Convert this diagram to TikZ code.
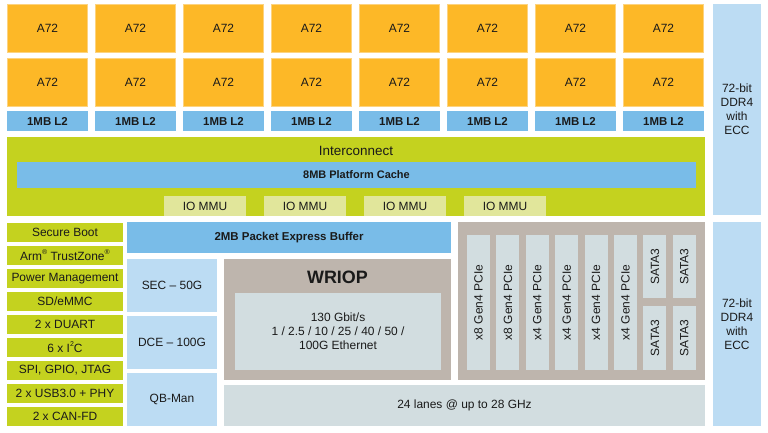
\documentclass[tikz,border=0pt]{standalone}
\usepackage{fontspec}
\setmainfont{Liberation Sans}
\definecolor{corefill}{HTML}{FDB827}
\definecolor{coreline}{HTML}{FDD37F}
\definecolor{ltwofill}{HTML}{79BCE8}
\definecolor{grn}{HTML}{C4D21F}
\definecolor{mmu}{HTML}{E1E69B}
\definecolor{lblue}{HTML}{BCDCF3}
\definecolor{wgray}{HTML}{BEB5AD}
\definecolor{lgray}{HTML}{D2DDE0}
\definecolor{txt}{HTML}{1A1A1A}
\newcommand{\smsup}[1]{\raisebox{0.45em}{\fontsize{7}{8}\selectfont #1}}
\begin{document}
\begin{tikzpicture}[x=1bp,y=-1bp,
  blk/.style={anchor=north west, inner sep=0pt, outer sep=0pt, text=txt,
    font=\fontsize{12}{14}\selectfont, align=center},
  core/.style={blk, fill=corefill, draw=coreline, line width=0.6bp,
    minimum width=80.4bp, minimum height=48.4bp},
  ltwo/.style={blk, fill=ltwofill, minimum width=81bp, minimum height=20bp,
    font=\fontsize{11.5}{14}\selectfont\bfseries},
  mmubox/.style={blk, fill=mmu, minimum width=82bp, minimum height=20bp},
  side/.style={blk, fill=grn, minimum width=116bp, minimum height=19.5bp},
  lbbox/.style={blk, fill=lblue},
  strip/.style={blk, fill=lgray, minimum width=23bp},
  vtext/.style={rotate=90, text=txt, font=\fontsize{12}{14}\selectfont, inner sep=0pt},
  lbl/.style={text=txt, inner sep=0pt, align=center, font=\fontsize{12}{14}\selectfont}]
\useasboundingbox (0,0) rectangle (768,432);
\fill[white] (0,0) rectangle (768,432);

% cores and L2
\foreach \i in {0,...,7} {
  \node[core] (ca\i) at ({7.3+88*\i},4.3) {A72};
  \node[core] (cb\i) at ({7.3+88*\i},58.3) {A72};
  \node[ltwo] (l\i) at ({7+88*\i},111) {1MB L2};
}

% interconnect
\node[blk, fill=grn, minimum width=698bp, minimum height=79bp] (ic) at (7,137) {};
\node[lbl, font=\fontsize{13.5}{16}\selectfont] (ict) at (356,151) {Interconnect};
\node[blk, fill=ltwofill, minimum width=679bp, minimum height=26bp,
  font=\fontsize{11}{12}\selectfont\bfseries] (pc) at (17,162) {8MB Platform Cache};
\foreach \i in {0,...,3} {
  \node[mmubox] (m\i) at ({164+100*\i},196) {IO MMU};
}

% DDR
\node[lbbox, minimum width=48bp, minimum height=211bp] (ddra) at (713,4)
  {72-bit\\DDR4\\with\\ECC};
\node[lbbox, minimum width=48bp, minimum height=204bp] (ddrb) at (713,222)
  {72-bit\\DDR4\\with\\ECC};

% left column
\node[side] (s1) at (7,222.5) {Secure Boot};
\node[side] (s2) at (7,245.5) {Arm\smsup{®} TrustZone\smsup{®}};
\node[side] (s3) at (7,268.5) {Power Management};
\node[side] (s4) at (7,291.5) {SD/eMMC};
\node[side] (s5) at (7,314.5) {2 x DUART};
\node[side] (s6) at (7,337.5) {6 x I\smsup{2}C};
\node[side] (s7) at (7,360.5) {SPI, GPIO, JTAG};
\node[side] (s8) at (7,383.5) {2 x USB3.0 + PHY};
\node[side] (s9) at (7,406.5) {2 x CAN-FD};

% packet buffer and accelerators
\node[blk, fill=ltwofill, minimum width=324bp, minimum height=31bp,
  font=\fontsize{11.5}{14}\selectfont\bfseries] (pb) at (127,222) {2MB Packet Express Buffer};
\node[lbbox, minimum width=90bp, minimum height=53bp] (sec) at (127,259) {SEC – 50G};
\node[lbbox, minimum width=90bp, minimum height=53bp] (dce) at (127,316) {DCE – 100G};
\node[lbbox, minimum width=90bp, minimum height=53bp] (qbm) at (127,373) {QB-Man};

% WRIOP
\node[blk, fill=wgray, minimum width=227bp, minimum height=121bp] (wr) at (224,259) {};
\node[lbl, font=\fontsize{18}{20}\selectfont\bfseries] (wrt) at (337.5,277) {WRIOP};
\node[blk, fill=lgray, minimum width=206bp, minimum height=77bp] (wri) at (235,293)
  {130 Gbit/s\\1 / 2.5 / 10 / 25 / 40 / 50 /\\100G Ethernet};

% SerDes lanes
\node[blk, fill=lgray, minimum width=481bp, minimum height=41bp] (lanes) at (224,385)
  {24 lanes @ up to 28 GHz};

% PCIe / SATA
\node[blk, fill=wgray, minimum width=247bp, minimum height=158bp] (pcont) at (458,222) {};
\foreach \i/\t in {0/x8 Gen4 PCIe,1/x8 Gen4 PCIe,2/x4 Gen4 PCIe,3/x4 Gen4 PCIe,4/x4 Gen4 PCIe,5/x4 Gen4 PCIe} {
  \node[strip, minimum height=135bp] (p\i) at ({467+29.4*\i},235) {};
  \node[vtext] (pt\i) at (p\i.center) {\t};
}
\foreach \i in {0,1} {
  \node[strip, minimum height=63bp] (sa\i) at ({643.4+29.4*\i},235) {};
  \node[vtext] (sat\i) at (sa\i.center) {SATA3};
  \node[strip, minimum height=64bp] (sb\i) at ({643.4+29.4*\i},306) {};
  \node[vtext] (sbt\i) at (sb\i.center) {SATA3};
}
\end{tikzpicture}
\end{document}
